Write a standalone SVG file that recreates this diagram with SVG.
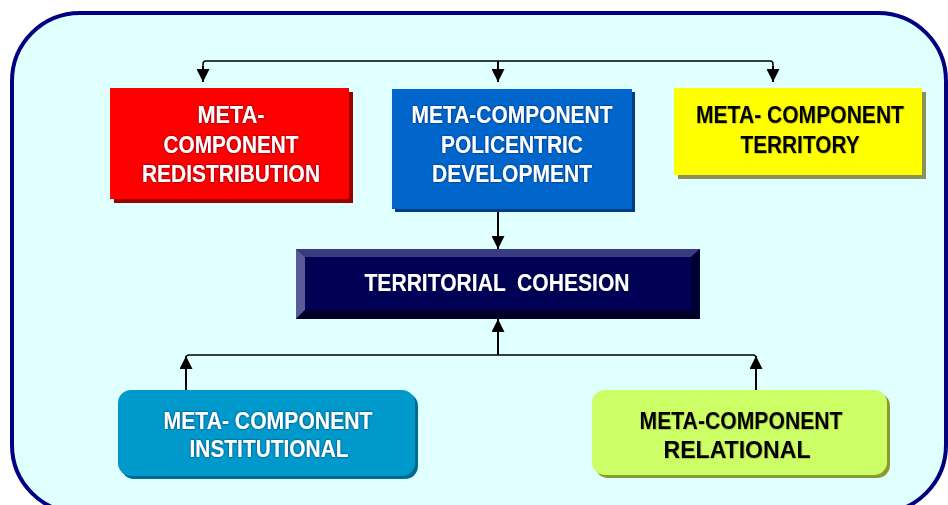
<svg xmlns="http://www.w3.org/2000/svg" width="948" height="505" viewBox="0 0 948 505">
<defs>
<style>
.t{font-family:"Liberation Sans",Arial,sans-serif;font-weight:bold;font-size:24px;text-anchor:middle;white-space:pre}
.w{fill:#ffffff;filter:url(#halo)}
.k{fill:#000000;filter:url(#soft)}
.ln{fill:none;stroke:#000;stroke-width:1.5}
.vl{fill:none;stroke:#000;stroke-width:2}
</style>
<filter id="halo" x="-10%" y="-30%" width="120%" height="160%">
<feDropShadow dx="0" dy="0" stdDeviation="1" flood-color="#000033" flood-opacity="0.7"/>
</filter>
<filter id="soft" x="-10%" y="-30%" width="120%" height="160%">
<feDropShadow dx="0.5" dy="0.5" stdDeviation="0.6" flood-color="#555500" flood-opacity="0.6"/>
</filter>
<marker id="ah" viewBox="0 0 13 13" refX="13" refY="6.5" markerWidth="13" markerHeight="13" markerUnits="userSpaceOnUse" orient="auto">
<path d="M0,0 L13,6.5 L0,13 Z" fill="#000"/>
</marker>
</defs>
<rect x="0" y="0" width="948" height="505" fill="#ffffff"/>
<rect id="frame" x="12" y="13" width="934" height="500" rx="68" ry="68" fill="#E0FFFF" stroke="#000080" stroke-width="4"/>

<g id="connectors">
<path class="ln" d="M203,80 L203,64 Q203,61 206,61 L770,61 Q773,61 773,64 L773,80"/>
<line class="vl" x1="203" y1="66" x2="203" y2="82" marker-end="url(#ah)"/>
<line class="vl" x1="498" y1="61" x2="498" y2="82" marker-end="url(#ah)"/>
<line class="vl" x1="773" y1="66" x2="773" y2="82" marker-end="url(#ah)"/>
<line class="vl" x1="498" y1="210" x2="498" y2="249" marker-end="url(#ah)"/>
<path class="ln" d="M186,360 L186,358 Q186,355 189,355 L753,355 Q756,355 756,358 L756,360"/>
<line class="vl" x1="186" y1="390" x2="186" y2="356" marker-end="url(#ah)"/>
<line class="vl" x1="756" y1="390" x2="756" y2="356" marker-end="url(#ah)"/>
<line class="vl" x1="498" y1="355" x2="498" y2="319" marker-end="url(#ah)"/>
</g>

<g id="redistribution">
<rect x="114" y="92" width="239" height="111" fill="#990000"/>
<rect x="110" y="88" width="239" height="111" fill="#FF0000"/>
<text class="t w" x="231" y="123" textLength="67" lengthAdjust="spacingAndGlyphs">META-</text>
<text class="t w" x="231" y="153" textLength="135" lengthAdjust="spacingAndGlyphs">COMPONENT</text>
<text class="t w" x="231" y="182" textLength="178" lengthAdjust="spacingAndGlyphs">REDISTRIBUTION</text>
</g>

<g id="policentric">
<rect x="395" y="92" width="240" height="120" fill="#003C80"/>
<rect x="392" y="89" width="240" height="120" fill="#0066CC"/>
<text class="t w" x="512" y="123" textLength="201" lengthAdjust="spacingAndGlyphs">META-COMPONENT</text>
<text class="t w" x="512" y="153" textLength="142" lengthAdjust="spacingAndGlyphs">POLICENTRIC</text>
<text class="t w" x="512" y="182" textLength="160" lengthAdjust="spacingAndGlyphs">DEVELOPMENT</text>
</g>

<g id="territory">
<rect x="678" y="92" width="248" height="87" fill="#8F8F5A"/>
<rect x="674" y="88" width="248" height="87" fill="#FFFF00"/>
<text class="t k" x="800" y="123" textLength="208" lengthAdjust="spacingAndGlyphs">META- COMPONENT</text>
<text class="t k" x="800" y="153" textLength="119" lengthAdjust="spacingAndGlyphs">TERRITORY</text>
</g>

<g id="cohesion">
<rect x="296" y="249" width="404" height="70" fill="#000055"/>
<polygon points="296,249 700,249 691,257 305,257" fill="#3A3A80"/>
<polygon points="296,249 305,257 305,310 296,319" fill="#5A5A99"/>
<polygon points="700,249 700,319 691,310 691,257" fill="#000033"/>
<polygon points="296,319 305,310 691,310 700,319" fill="#000028"/>
<rect x="305" y="257" width="386" height="53" fill="#000055"/>
<text class="t w" x="497" y="291" textLength="265" lengthAdjust="spacingAndGlyphs">TERRITORIAL  COHESION</text>
</g>

<g id="institutional">
<rect x="121" y="393" width="297" height="86" rx="13" fill="#006A90"/>
<rect x="118" y="390" width="297" height="86" rx="13" fill="#0099CC"/>
<text class="t w" x="268" y="429" textLength="209" lengthAdjust="spacingAndGlyphs">META- COMPONENT</text>
<text class="t w" x="269" y="457" textLength="159" lengthAdjust="spacingAndGlyphs">INSTITUTIONAL</text>
</g>

<g id="relational">
<rect x="595" y="393" width="295" height="85" rx="13" fill="#8A9A30"/>
<rect x="592" y="390" width="295" height="85" rx="13" fill="#CCFF66"/>
<text class="t k" x="741" y="429" textLength="203" lengthAdjust="spacingAndGlyphs">META-COMPONENT</text>
<text class="t k" x="737" y="458" textLength="147" lengthAdjust="spacingAndGlyphs">RELATIONAL</text>
</g>
</svg>
